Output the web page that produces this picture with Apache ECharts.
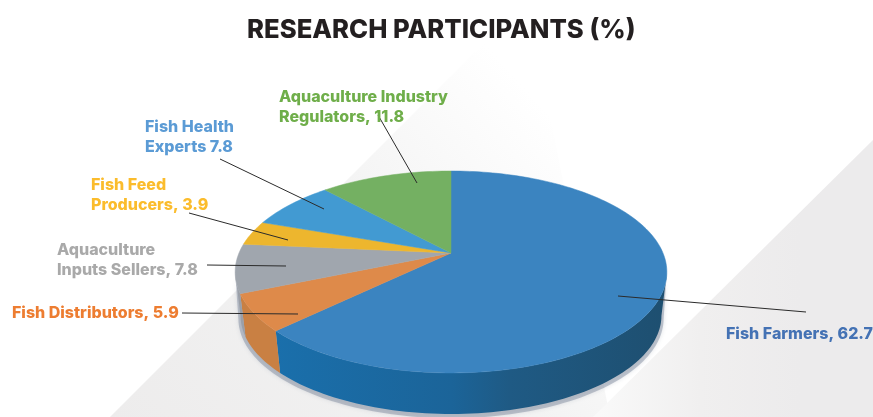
<!DOCTYPE html>
<html>
<head>
<meta charset="utf-8">
<style>html,body{margin:0;padding:0;background:#fff}#main{width:873px;height:417px}</style>
<script src="https://cdn.jsdelivr.net/npm/echarts@6/dist/echarts.min.js"></script>
</head>
<body>
<div id="main"></div>
<script>
// clockwise from 12 o'clock
const categories = ['Fish Farmers', 'Fish Distributors', 'Aquaculture Inputs Sellers', 'Fish Feed Producers', 'Fish Health Experts', 'Aquaculture Industry Regulators'];
const values = [62.7, 5.9, 7.8, 3.9, 7.8, 11.8];
const labelTexts = ['Fish Farmers, 62.7', 'Fish Distributors, 5.9', 'Aquaculture\nInputs Sellers, 7.8', 'Fish Feed\nProducers, 3.9', 'Fish Health\nExperts 7.8', 'Aquaculture Industry\nRegulators, 11.8'];

const topColors = ['#3b84c0', '#de8a4a', '#a0a6ae', '#edb62e', '#429ad2', '#74b062'];
const wallColors = [null, '#c98043', '#9a9fa8', '#c99a28', '#3580b0', '#5f9450'];
const labelColors = ['#4472b4', '#ed7d31', '#a9a9a9', '#fbbc2c', '#5b9bd5', '#6fae4a'];
const labelPos = [[726, 334], [12, 313], [57, 260], [91, 195], [145, 137], [279, 107]];
const leaders = [
    [618, 296, 806, 312],
    [182, 313, 298, 314],
    [207, 265, 286, 266],
    [189, 213, 288, 240],
    [220, 159, 324, 209],
    [378, 115, 417, 183]
];

// the pie is tilted in perspective, so the apex sits above the centre of the rim ellipse
const apexX = 451, apexY = 253, persp = 0.188, radX = 212, radY = 97.4, depth = 44, bottomScale = 0.975;
const wallFrom = 101, wallTo = 259;
const total = values.reduce((a, b) => a + b, 0);
const starts = [];
values.reduce((acc, v, i) => { starts[i] = acc; return acc + v; }, 0);

function project(deg, dy, scale) {
    const t = deg * Math.PI / 180, s = scale || 1;
    const u = Math.sin(t), v = -Math.cos(t), w = 1 - persp * v;
    return [apexX + s * radX * u / w, apexY + s * radY * v / w + (dy || 0)];
}
function arc(from, to, dy, scale) {
    const pts = [], n = Math.max(2, Math.ceil((to - from) / 1.5));
    for (let i = 0; i <= n; i++) pts.push(project(from + (to - from) * i / n, dy, scale));
    return pts;
}

const wallBlue = new echarts.graphic.LinearGradient(277, 0, 665, 0, [
    { offset: 0, color: '#1a6fab' },
    { offset: 0.45, color: '#1b6499' },
    { offset: 0.6, color: '#1f5a84' },
    { offset: 1, color: '#1e4f70' }
], true);

function renderTop(params, api) {
    const from = api.value(1) / total * 360, to = from + api.value(0) / total * 360;
    return {
        type: 'polygon',
        shape: { points: [[apexX, apexY]].concat(arc(from, to)) },
        style: { fill: topColors[params.dataIndex], stroke: topColors[params.dataIndex], lineWidth: 0.5 }
    };
}
function renderWall(params, api) {
    const from = Math.max(api.value(1) / total * 360, wallFrom);
    const to = Math.min((api.value(1) + api.value(0)) / total * 360, wallTo);
    if (to <= from) return null;
    const pts = arc(from, to).concat(arc(from, to, depth, bottomScale).reverse());
    return {
        type: 'polygon',
        shape: { points: pts },
        style: { fill: params.dataIndex === 0 ? wallBlue : wallColors[params.dataIndex] }
    };
}
function renderShadow() {
    return {
        type: 'polygon',
        shape: { points: arc(wallFrom, wallTo).concat(arc(wallFrom, wallTo, depth + 3, 0.985).reverse()) },
        style: { fill: 'rgba(125,135,155,0.45)', shadowBlur: 4, shadowColor: 'rgba(125,135,155,0.5)' }
    };
}

const pieData = values.map((v, i) => ({ name: categories[i], value: [v, starts[i]] }));

const graphics = [
    {
        type: 'polygon', z: -2, silent: true,
        shape: { points: [[110, 417], [527, 0], [610, 417]] },
        style: {
            fill: new echarts.graphic.LinearGradient(110, 417, 500, 60, [
                { offset: 0, color: '#edecec' },
                { offset: 0.6, color: '#f3f3f3' },
                { offset: 1, color: '#ffffff' }
            ], true)
        }
    },
    {
        type: 'polygon', z: -1, silent: true,
        shape: { points: [[873, 140], [593, 417], [873, 417]] },
        style: {
            fill: new echarts.graphic.LinearGradient(600, 0, 800, 0, [
                { offset: 0, color: '#f9f9f9' },
                { offset: 0.5, color: '#f0efef' },
                { offset: 1, color: '#ecebec' }
            ], true)
        }
    }
];
leaders.forEach(l => graphics.push({
    type: 'line', z: 20, silent: true,
    shape: { x1: l[0], y1: l[1], x2: l[2], y2: l[3] },
    style: { stroke: '#2b2b2b', lineWidth: 1 }
}));
labelTexts.forEach((t, i) => graphics.push({
    type: 'text', z: 21, silent: true,
    x: labelPos[i][0], y: labelPos[i][1],
    style: {
        text: t, fill: labelColors[i],
        font: '800 16px Inter', lineHeight: 19.5,
        textAlign: 'left', textVerticalAlign: 'middle'
    }
}));

const chart = echarts.init(document.getElementById('main'), null, { renderer: 'canvas' });
chart.setOption({
    animation: false,
    backgroundColor: '#ffffff',
    title: {
        text: 'RESEARCH PARTICIPANTS (%)',
        left: 242, top: 12,
        textStyle: { fontFamily: 'Inter', fontWeight: 800, fontSize: 25.7, color: '#231f20' }
    },
    graphic: { elements: graphics },
    series: [
        { type: 'custom', coordinateSystem: 'none', z: 1, silent: true, data: [0], renderItem: renderShadow },
        { type: 'custom', coordinateSystem: 'none', z: 2, silent: true, data: pieData, renderItem: renderWall },
        { type: 'custom', coordinateSystem: 'none', z: 3, silent: true, data: pieData, renderItem: renderTop }
    ]
});
</script>
</body>
</html>
